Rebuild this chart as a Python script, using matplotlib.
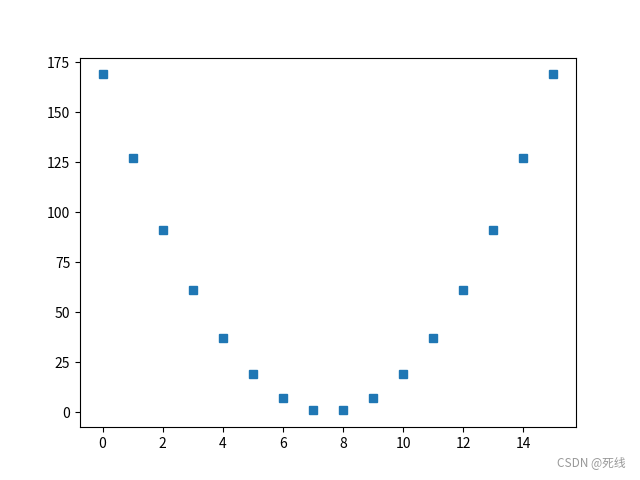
import matplotlib.pyplot as plt

plt.rcParams['font.family'] = ['Noto Sans CJK SC', 'DejaVu Sans']
plt.rcParams['axes.unicode_minus'] = False

x = list(range(16))
y = [169, 127, 91, 61, 37, 19, 7, 1, 1, 7, 19, 37, 61, 91, 127, 169]

fig = plt.figure(figsize=(6.4, 4.8), dpi=100)
ax = fig.add_subplot(111)
ax.plot(x, y, 's', color='#1f77b4')

fig.text(0.977, 0.023, 'CSDN @死线', ha='right', va='bottom', fontsize=8.5, color='#999999')

fig.savefig('out.png')
